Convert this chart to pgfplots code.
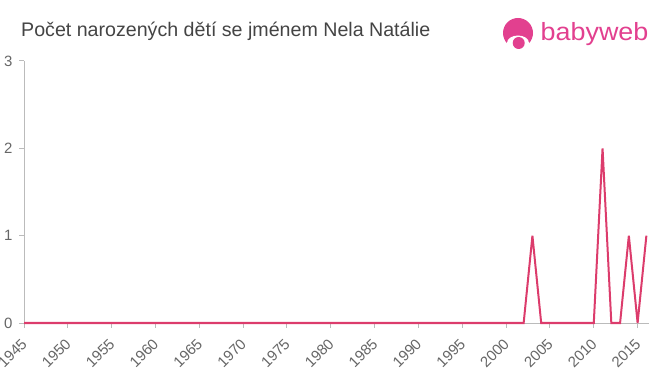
\documentclass[border=0pt]{standalone}
\usepackage{pgfplots}
\pgfplotsset{compat=1.18}
\usepackage{fontspec}
\setmainfont{Liberation Sans}
\definecolor{axgray}{HTML}{BBBBBB}
\definecolor{txtgray}{HTML}{666666}
\definecolor{titlegray}{HTML}{444444}
\definecolor{linec}{HTML}{DC3C6C}
\definecolor{logoc}{HTML}{E2408F}
\newcommand{\tickfont}{\fontsize{15}{15}\selectfont}
\begin{document}
\begin{tikzpicture}
\path[use as bounding box] (0bp,0bp) rectangle (660bp,375bp);
\node[anchor=base west, inner sep=0, text=titlegray, font=\fontsize{19.7}{22}\selectfont] at (21bp,338bp) {Počet narozených dětí se jménem Nela Natálie};
% logo
\fill[logoc] (518bp,342bp) circle (15bp);
\fill[white] (518bp,332bp) ellipse (11bp and 7.5bp);
\fill[logoc] (518.7bp,332bp) circle (6bp);
\node[anchor=base west, inner sep=0, text=logoc, xscale=1.08, font=\fontsize{25}{28}\selectfont] at (540.5bp,334.3bp) {babyweb};
\begin{axis}[
  at={(24bp,52bp)}, anchor=south west, scale only axis,
  width=625bp, height=262bp,
  xmin=1945, xmax=2016.3, ymin=0, ymax=3,
  axis x line=bottom, axis y line=left,
  axis line style={axgray, line width=1bp, -},
  tick style={axgray, line width=1bp},
  tick align=outside, major tick length=5bp,
  xtick={1945,1950,...,2015}, ytick={0,1,2,3},
  /pgf/number format/assume math mode=true,
  /pgf/number format/1000 sep={},
  xticklabel={\tickfont\pgfmathprintnumber{\tick}},
  yticklabel={\tickfont\pgfmathprintnumber{\tick}},
  x tick label style={text=txtgray, xshift=4bp, yshift=-17bp, rotate=45, anchor=base east, inner sep=0pt},
  y tick label style={text=txtgray, xshift=-3bp},
  clip=false,
]
\addplot[linec, line width=2bp, line join=miter] coordinates {
(1945,0)(1946,0)(1947,0)(1948,0)(1949,0)(1950,0)(1951,0)(1952,0)(1953,0)(1954,0)
(1955,0)(1956,0)(1957,0)(1958,0)(1959,0)(1960,0)(1961,0)(1962,0)(1963,0)(1964,0)
(1965,0)(1966,0)(1967,0)(1968,0)(1969,0)(1970,0)(1971,0)(1972,0)(1973,0)(1974,0)
(1975,0)(1976,0)(1977,0)(1978,0)(1979,0)(1980,0)(1981,0)(1982,0)(1983,0)(1984,0)
(1985,0)(1986,0)(1987,0)(1988,0)(1989,0)(1990,0)(1991,0)(1992,0)(1993,0)(1994,0)
(1995,0)(1996,0)(1997,0)(1998,0)(1999,0)(2000,0)(2001,0)(2002,0)(2003,1)(2004,0)
(2005,0)(2006,0)(2007,0)(2008,0)(2009,0)(2010,0)(2011,2)(2012,0)(2013,0)(2014,1)
(2015,0)(2016,1)
};
\end{axis}
\end{tikzpicture}
\end{document}
